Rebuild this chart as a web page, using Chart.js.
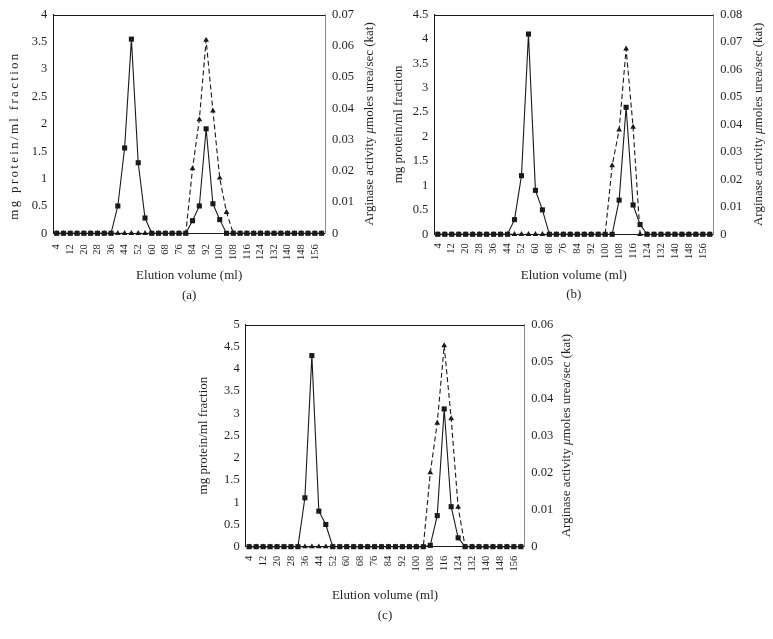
<!DOCTYPE html>
<html><head><meta charset="utf-8">
<script src="https://cdn.jsdelivr.net/npm/chart.js@4.4.1/dist/chart.umd.min.js"></script>
<style>
html,body{margin:0;padding:0;background:#fff;}
body{width:773px;height:639px;position:relative;overflow:hidden;}
canvas{position:absolute;}
</style></head><body>
<canvas id="ca" width="388" height="310" style="left:0px;top:0px;width:388px;height:310px"></canvas>
<canvas id="cb" width="388" height="310" style="left:385px;top:0px;width:388px;height:310px"></canvas>
<canvas id="cc" width="400" height="329" style="left:190px;top:310px;width:400px;height:329px"></canvas>
<script>
// ---- data ----
const volumes = [4,8,12,16,20,24,28,32,36,40,44,48,52,56,60,64,68,72,76,80,84,88,92,96,100,104,108,112,116,120,124,128,132,136,140,144,148,152,156,160];

const proteinA  = [0,0,0,0,0,0,0,0,0,0.5,1.56,3.55,1.29,0.28,0,0,0,0,0,0,0.23,0.5,1.91,0.54,0.25,0,0,0,0,0,0,0,0,0,0,0,0,0,0,0];
const arginaseA = [0,0,0,0,0,0,0,0,0,0,0,0,0,0,0,0,0,0,0,0,0.0207,0.0364,0.0618,0.0392,0.0177,0.0067,0,0,0,0,0,0,0,0,0,0,0,0,0,0];

const proteinB  = [0,0,0,0,0,0,0,0,0,0,0,0.3,1.2,4.1,0.9,0.5,0,0,0,0,0,0,0,0,0,0,0.7,2.6,0.6,0.2,0,0,0,0,0,0,0,0,0,0];
const arginaseB = [0,0,0,0,0,0,0,0,0,0,0,0,0,0,0,0,0,0,0,0,0,0,0,0,0,0.025,0.038,0.0675,0.039,0,0,0,0,0,0,0,0,0,0,0];

const proteinC  = [0,0,0,0,0,0,0,0,1.1,4.3,0.8,0.5,0,0,0,0,0,0,0,0,0,0,0,0,0,0,0.03,0.7,3.1,0.9,0.2,0,0,0,0,0,0,0,0,0];
const arginaseC = [0,0,0,0,0,0,0,0,0,0,0,0,0,0,0,0,0,0,0,0,0,0,0,0,0,0,0.020,0.0334,0.0543,0.0346,0.0107,0,0,0,0,0,0,0,0,0];

const xTitle = 'Elution volume (ml)';
const leftTitle = 'mg protein/ml fraction';
const rightTitleParts = ['Arginase activity ', 'μ', 'moles urea/sec (kat)'];

// ---- styling ----
const FONT = '"Liberation Serif", "Times New Roman", serif';
Chart.defaults.font.family = FONT;
Chart.defaults.color = '#231f20';
const INK = '#1a1a1a';

function fmt(v){ return String(Math.round(v*10000)/10000); }

const framePlugin = {
  id: 'frame',
  beforeDatasetsDraw(chart, args, o) {
    const {ctx, chartArea: a} = chart;
    ctx.save();
    ctx.strokeStyle = INK; ctx.lineWidth = 1;
    ctx.beginPath();
    ctx.moveTo(a.left, Math.round(a.top) + 0.5);
    ctx.lineTo(a.right, Math.round(a.top) + 0.5);
    ctx.stroke();
    ctx.restore();
  },
  afterDraw(chart, args, o) {
    const {ctx, chartArea: a} = chart;
    const midY = (a.top + a.bottom) / 2;
    ctx.save();
    ctx.fillStyle = '#231f20';
    ctx.textBaseline = 'middle';
    // left title
    ctx.save();
    ctx.font = '13px ' + FONT;
    ctx.translate(o.leftX, o.leftY != null ? o.leftY : midY);
    ctx.rotate(-Math.PI / 2);
    if (o.leftSpacing) ctx.letterSpacing = o.leftSpacing + 'px';
    ctx.textAlign = 'center';
    ctx.fillText(leftTitle, 0, 0);
    ctx.restore();
    // right title (with italic mu)
    ctx.save();
    ctx.translate(o.rightX, midY);
    ctx.rotate(-Math.PI / 2);
    ctx.textAlign = 'left';
    const fonts = ['13px ' + FONT, 'italic 13px ' + FONT, '13px ' + FONT];
    let total = 0; const w = [];
    rightTitleParts.forEach((t, i) => { ctx.font = fonts[i]; w[i] = ctx.measureText(t).width; total += w[i]; });
    let x = -total / 2;
    rightTitleParts.forEach((t, i) => { ctx.font = fonts[i]; ctx.fillText(t, x, 0); x += w[i]; });
    ctx.restore();
    // caption
    ctx.font = '13px ' + FONT;
    ctx.textAlign = 'center';
    ctx.fillText(o.caption, (a.left + a.right) / 2, o.captionY);
    ctx.restore();
  }
};

function build(id, P) {
  return new Chart(document.getElementById(id), {
    type: 'line',
    data: {
      labels: volumes,
      datasets: [
        { label: 'Protein', data: P.protein, yAxisID: 'y', borderColor: INK, backgroundColor: INK,
          borderWidth: 1.1, pointStyle: 'rect', pointRadius: 3.6, pointBorderWidth: 0, tension: 0, clip: false },
        { label: 'Arginase', data: P.arginase, yAxisID: 'y1', borderColor: INK, backgroundColor: INK,
          borderWidth: 1.1, borderDash: [5, 3], pointStyle: 'triangle', pointRadius: 3.3, pointBorderWidth: 0, tension: 0, clip: false }
      ]
    },
    options: {
      responsive: false, animation: false, devicePixelRatio: 1,
      layout: { padding: { top: P.padTop, left: 0, right: 0, bottom: 0 } },
      plugins: {
        legend: { display: false }, tooltip: { enabled: false },
        frame: { leftX: P.leftX, leftY: P.leftY, leftSpacing: P.leftSpacing, rightX: P.rightX, caption: P.caption, captionY: P.captionY }
      },
      scales: {
        x: {
          type: 'category', offset: true,
          grid: { display: false, drawTicks: false },
          border: { color: INK, width: 1 },
          ticks: { autoSkip: false, maxRotation: 90, minRotation: 90, padding: P.xTickPad, font: { size: 10.5 },
                   callback(v, i) { return i % 2 === 0 ? this.getLabelForValue(v) : ''; } },
          title: { display: true, text: xTitle, font: { size: 13 }, padding: { top: 0, bottom: P.xTitlePad } },
          afterFit(s) { s.height = P.xHeight; }
        },
        y: {
          position: 'left', min: 0, max: P.yMax,
          grid: { display: false, drawTicks: false },
          border: { color: INK, width: 1 },
          ticks: { stepSize: 0.5, padding: 6, font: { size: 12.5 }, callback: fmt },
          afterFit(s) { s.width = P.leftW; }
        },
        y1: {
          position: 'right', min: 0, max: P.y1Max,
          grid: { display: false, drawTicks: false },
          border: { color: '#8a8a8a', width: 1 },
          ticks: { stepSize: 0.01, padding: 7, font: { size: 12.5 }, callback: fmt },
          afterFit(s) { s.width = P.rightW; }
        }
      }
    },
    plugins: [framePlugin]
  });
}

build('ca', { protein: proteinA, arginase: arginaseA, yMax: 4, y1Max: 0.07,
  padTop: 13.3, xHeight: 76.7, xTitlePad: 26.2, xTickPad: 11, leftW: 53.3, rightW: 63,
  leftX: 15, leftY: 135.5, leftSpacing: 2.3, rightX: 370, caption: '(a)', captionY: 296 });
build('cb', { protein: proteinB, arginase: arginaseB, yMax: 4.5, y1Max: 0.08,
  padTop: 13.3, xHeight: 75.7, xTitlePad: 26.2, xTickPad: 9, leftW: 49.3, rightW: 59.7,
  leftX: 13.3, leftY: null, leftSpacing: 0, rightX: 373.3, caption: '(b)', captionY: 295 });
build('cc', { protein: proteinC, arginase: arginaseC, yMax: 5, y1Max: 0.06,
  padTop: 12.7, xHeight: 92.3, xTitlePad: 35.2, xTickPad: 9, leftW: 55.7, rightW: 65.7,
  leftX: 13.3, leftY: null, leftSpacing: 0, rightX: 376.7, caption: '(c)', captionY: 306 });
</script>
</body></html>
